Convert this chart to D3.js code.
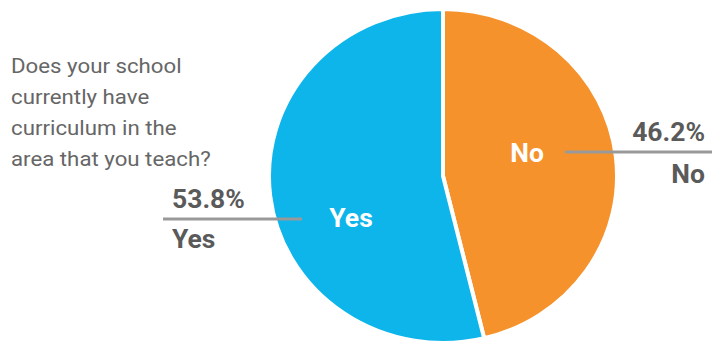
<!DOCTYPE html>
<html>
<head>
<meta charset="utf-8">
<script src="https://cdn.jsdelivr.net/npm/d3@7"></script>
<style>
  body { margin: 0; background: #fff; }
  svg { display: block; font-family: Roboto, "Noto Sans", sans-serif; }
</style>
</head>
<body>
<svg width="712" height="344"></svg>
<script>
var categories = ['No', 'Yes'];
var values = [46.2, 53.8];
var colors = ['#f5922b', '#0db5ea'];
var questionLines = ['Does your school', 'currently have', 'curriculum in the', 'area that you teach?'];

var svg = d3.select('svg');

var cx = 443, cy = 176, radius = 167, stretch = 1.042;

var pie = d3.pie().sort(null).value(function(d) { return d.value; });
var arc = d3.arc().innerRadius(0).outerRadius(radius);

var data = categories.map(function(c, i) { return { name: c, value: values[i], color: colors[i] }; });
var arcs = pie(data);

var g = svg.append('g')
    .attr('transform', 'translate(' + cx + ',' + cy + ') scale(' + stretch + ',1)');

g.selectAll('path')
    .data(arcs)
    .enter()
    .append('path')
    .attr('d', arc)
    .style('fill', function(d) { return d.data.color; })
    .style('stroke', '#fff')
    .style('stroke-width', 4)
    .attr('vector-effect', 'non-scaling-stroke');

// question text (source looks slightly stretched sideways)
svg.append('g')
    .attr('transform', 'translate(11,0) scale(1.06,1)')
    .selectAll('text')
    .data(questionLines)
    .enter()
    .append('text')
    .attr('x', 0)
    .attr('y', function(d, i) { return 73 + i * 31; })
    .style('font-size', '21px')
    .style('fill', '#666')
    .text(function(d) { return d; });

// label layout: inner label, leader line, outer texts
var layout = {
    No:  { inner: [527, 162], line: [565, 712, 152], anchor: 'end', tx: 705, pctY: 141, nameY: 183 },
    Yes: { inner: [351, 227], line: [163, 302, 219], anchor: 'start', tx: 172, pctY: 208, nameY: 248 }
};

function label(x, y, anchor, color, txt) {
    svg.append('text')
        .attr('transform', 'translate(' + x + ',' + y + ') scale(1.06,1)')
        .attr('text-anchor', anchor)
        .style('font-size', '25px')
        .style('font-weight', 'bold')
        .style('fill', color)
        .text(txt);
}

arcs.forEach(function(d) {
    var l = layout[d.data.name];
    svg.append('line')
        .attr('x1', l.line[0]).attr('x2', l.line[1])
        .attr('y1', l.line[2]).attr('y2', l.line[2])
        .style('stroke', '#999')
        .style('stroke-width', 3);

    label(l.inner[0], l.inner[1], 'middle', '#fff', d.data.name);
    label(l.tx, l.pctY, l.anchor, '#5a5a5a', d3.format('.1f')(d.data.value) + '%');
    label(l.tx, l.nameY, l.anchor, '#5a5a5a', d.data.name);
});
</script>
</body>
</html>
